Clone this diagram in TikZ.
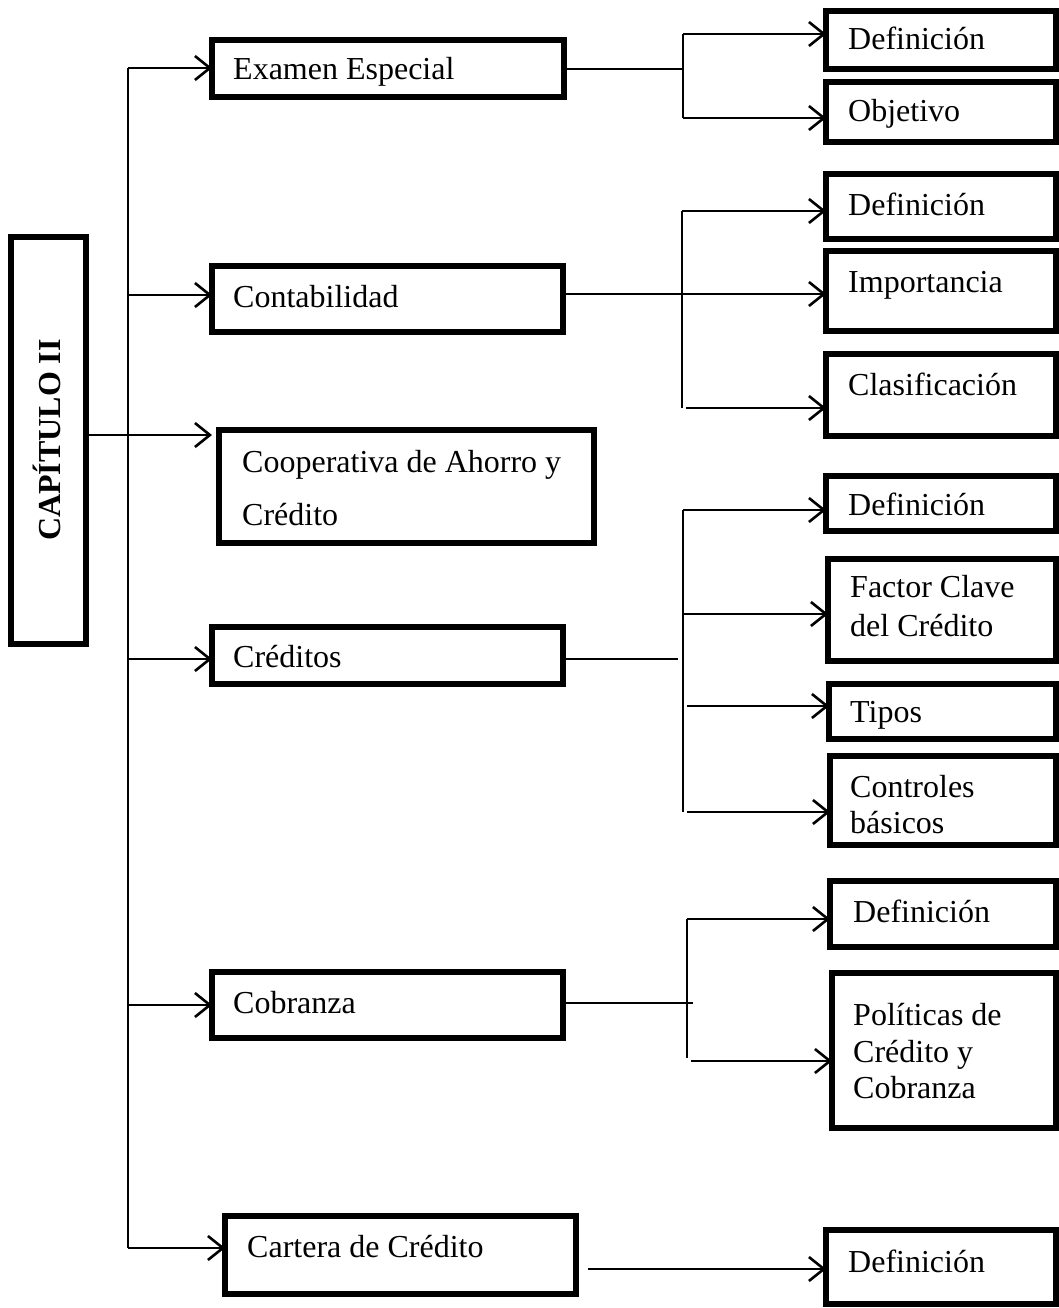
\documentclass[tikz,border=0pt]{standalone}
\usepackage{fontspec}
\setmainfont{Liberation Serif}
\usetikzlibrary{arrows.meta}
\begin{document}
\begin{tikzpicture}[x=1pt,y=-1pt,
  box/.style={draw, line width=5.5pt, rectangle, inner sep=0pt, outer sep=0pt, anchor=north west},
  txt/.style={anchor=base west, inner sep=0pt, font=\fontsize{32}{38}\selectfont},
  conn/.style={line width=2.2pt},
  arr/.style={conn, -{Straight Barb[length=15pt,width=24pt,line width=2.6pt]}},
]
\path[use as bounding box, fill=white] (0,0) rectangle (1058,1308);

% main boxes
\node[box, minimum width=75pt,  minimum height=407pt] (cap)  at (11,237) {};
\node[box, minimum width=352pt, minimum height=57pt]  (ee)   at (212,40) {};
\node[box, minimum width=351pt, minimum height=66pt]  (cont) at (212,266) {};
\node[box, minimum width=375pt, minimum height=113pt] (coop) at (219,430) {};
\node[box, minimum width=351pt, minimum height=57pt]  (cred) at (212,627) {};
\node[box, minimum width=351pt, minimum height=66pt]  (cob)  at (212,972) {};
\node[box, minimum width=351pt, minimum height=78pt]  (cart) at (225,1216) {};

% right boxes
\node[box, minimum width=230pt, minimum height=58pt]  (d1)   at (826,11) {};
\node[box, minimum width=230pt, minimum height=60pt]  (obj)  at (826,82) {};
\node[box, minimum width=230pt, minimum height=65pt]  (d2)   at (826,174) {};
\node[box, minimum width=230pt, minimum height=80pt]  (imp)  at (826,251) {};
\node[box, minimum width=230pt, minimum height=82pt]  (clas) at (826,354) {};
\node[box, minimum width=230pt, minimum height=55pt]  (d3)   at (826,476) {};
\node[box, minimum width=228pt, minimum height=102pt] (fk)   at (828,559) {};
\node[box, minimum width=227pt, minimum height=55pt]  (tip)  at (829,684) {};
\node[box, minimum width=226pt, minimum height=89pt]  (ctrl) at (830,756) {};
\node[box, minimum width=226pt, minimum height=66pt]  (d4)   at (830,881) {};
\node[box, minimum width=224pt, minimum height=155pt] (pol)  at (832,973) {};
\node[box, minimum width=230pt, minimum height=74pt]  (d5)   at (826,1230) {};

% texts
\node[inner sep=0pt, anchor=base, rotate=90, font=\fontsize{32}{38}\selectfont\bfseries] (cap-t) at (60,440) {CAPÍTULO II};
\node[txt] (ee-t)    at (233,80)   {Examen Especial};
\node[txt] (cont-t)  at (233,307)  {Contabilidad};
\node[txt] (coop-t1) at (242,472)  {Cooperativa de Ahorro y};
\node[txt] (coop-t2) at (242,525)  {Crédito};
\node[txt] (cred-t)  at (233,667)  {Créditos};
\node[txt] (cob-t)   at (233,1013) {Cobranza};
\node[txt] (cart-t)  at (247,1257) {Cartera de Crédito};
\node[txt] (d1-t)    at (848,50)   {Definición};
\node[txt] (obj-t)   at (848,122)  {Objetivo};
\node[txt] (d2-t)    at (848,215)  {Definición};
\node[txt] (imp-t)   at (848,292)  {Importancia};
\node[txt] (clas-t)  at (848,395)  {Clasificación};
\node[txt] (d3-t)    at (848,515)  {Definición};
\node[txt] (fk-t1)   at (850,597)  {Factor Clave};
\node[txt] (fk-t2)   at (850,636)  {del Crédito};
\node[txt] (tip-t)   at (850,722)  {Tipos};
\node[txt] (ctrl-t1) at (850,797)  {Controles};
\node[txt] (ctrl-t2) at (850,833)  {básicos};
\node[txt] (d4-t)    at (853,922)  {Definición};
\node[txt] (pol-t1)  at (853,1025) {Políticas de};
\node[txt] (pol-t2)  at (853,1062) {Crédito y};
\node[txt] (pol-t3)  at (853,1098) {Cobranza};
\node[txt] (d5-t)    at (848,1272) {Definición};

% trunk
\coordinate (tTop) at (128,68);
\coordinate (tC)   at (128,295);
\coordinate (tR)   at (128,659);
\coordinate (tB)   at (128,1005);
\coordinate (tBot) at (128,1248);
\coordinate (capY) at (0,435);
\coordinate (coopY) at (212,435);
\draw[conn] (tTop) -- (tBot);
\draw[arr] (tTop) -- (tTop -| ee.west);
\draw[arr] (tC) -- (tC -| cont.west);
\draw[arr] (tR) -- (tR -| cred.west);
\draw[arr] (tB) -- (tB -| cob.west);
\draw[arr] (tBot) -- (tBot -| cart.west);
\draw[arr] (cap.east |- capY) -- (coopY);

% Examen Especial branch
\coordinate (eJ) at (683,69);
\coordinate (eA) at (683,34);
\coordinate (eB) at (683,118);
\draw[conn] (ee.east |- eJ) -- (eJ);
\draw[conn] (eA) -- (eB);
\draw[arr] (eA) -- (eA -| d1.west);
\draw[arr] (eB) -- (eB -| obj.west);

% Contabilidad branch
\coordinate (cM) at (0,294);
\coordinate (cA) at (682,211);
\coordinate (cB) at (682,408);
\coordinate (cB2) at (686,408);
\draw[arr] (cont.east |- cM) -- (imp.west |- cM);
\draw[conn] (cA) -- (cB);
\draw[arr] (cA) -- (cA -| d2.west);
\draw[arr] (cB2) -- (cB2 -| clas.west);

% Creditos branch
\coordinate (rJ) at (678,659);
\coordinate (rA) at (683,510);
\coordinate (rB) at (683,812);
\coordinate (r2) at (683,614);
\coordinate (r3) at (687,706);
\coordinate (r4) at (687,812);
\draw[conn] (cred.east |- rJ) -- (rJ);
\draw[conn] (rA) -- (rB);
\draw[arr] (rA) -- (rA -| d3.west);
\draw[arr] (r2) -- (r2 -| fk.west);
\draw[arr] (r3) -- (r3 -| tip.west);
\draw[arr] (r4) -- (r4 -| ctrl.west);

% Cobranza branch
\coordinate (bJ) at (693,1003);
\coordinate (bA) at (687,919);
\coordinate (bB) at (687,1058);
\coordinate (b2) at (691,1061);
\draw[conn] (cob.east |- bJ) -- (bJ);
\draw[conn] (bA) -- (bB);
\draw[arr] (bA) -- (bA -| d4.west);
\draw[arr] (b2) -- (b2 -| pol.west);

% Cartera branch
\coordinate (kS) at (588,1269);
\draw[arr] (kS) -- (kS -| d5.west);
\end{tikzpicture}
\end{document}
